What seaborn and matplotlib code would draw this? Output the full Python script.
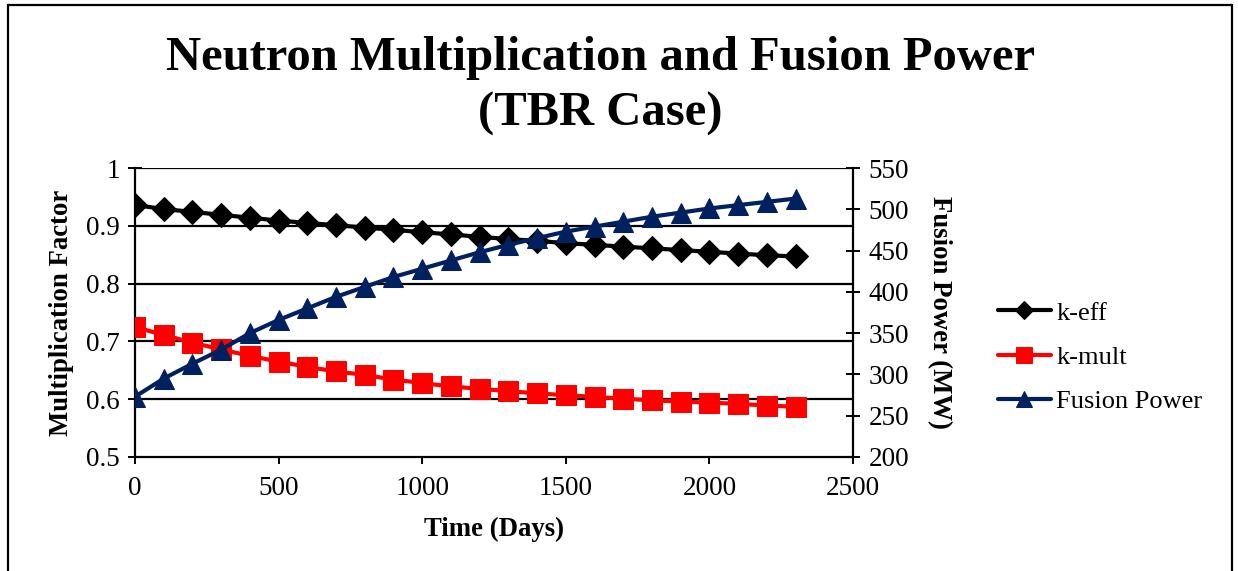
import matplotlib
matplotlib.use("Agg")
import matplotlib.pyplot as plt
import matplotlib.patches as mpatches
import seaborn as sns
import pandas as pd

# Burn-up time points (days)
days = [0, 100, 200, 300, 400, 500, 600, 700, 800, 900, 1000, 1100,
        1200, 1300, 1400, 1500, 1600, 1700, 1800, 1900, 2000, 2100, 2200, 2300]

# Effective multiplication factor
k_eff = [0.936, 0.929, 0.924, 0.919, 0.914, 0.909, 0.905, 0.901, 0.897, 0.893,
         0.889, 0.885, 0.881, 0.877, 0.874, 0.870, 0.867, 0.864, 0.861, 0.858,
         0.855, 0.852, 0.849, 0.847]

# Blanket multiplication factor
k_mult = [0.725, 0.711, 0.698, 0.686, 0.675, 0.665, 0.656, 0.648, 0.642, 0.634,
          0.628, 0.622, 0.618, 0.614, 0.610, 0.607, 0.604, 0.601, 0.598, 0.596,
          0.594, 0.592, 0.589, 0.587]

# Fusion power (MW)
fusion_power = [273, 295, 313, 330, 350, 366, 380, 394, 406, 418, 428, 438,
                448, 457, 465, 473, 479, 485, 491, 496, 501, 505, 509, 513]

x_ticks = [0, 500, 1000, 1500, 2000, 2500]
left_ticks = [0.5, 0.6, 0.7, 0.8, 0.9, 1.0]
right_ticks = [200, 250, 300, 350, 400, 450, 500, 550]

title = "Neutron Multiplication and Fusion Power\n(TBR Case)"
series_names = ["k-eff", "k-mult", "Fusion Power"]

df = pd.DataFrame({"days": days, "k_eff": k_eff, "k_mult": k_mult,
                   "power": fusion_power})

sns.set_theme(style="white")
plt.rcParams["font.family"] = ["Liberation Serif", "DejaVu Serif"]

W, H = 1238, 571
fig = plt.figure(figsize=(W / 100, H / 100), dpi=100)
fig.patch.set_facecolor("white")
ax = fig.add_axes([135 / W, 1 - 457 / H, (853 - 135) / W, (457 - 168) / H])
ax2 = ax.twinx()

navy = "#002060"
lw = 3.0

sns.lineplot(data=df, x="days", y="k_eff", ax=ax, color="black", linewidth=lw,
             marker="D", markersize=12, markeredgecolor="black",
             label=series_names[0], legend=False, zorder=3)
sns.lineplot(data=df, x="days", y="k_mult", ax=ax, color="#FF0000", linewidth=lw,
             marker="s", markersize=14, markeredgecolor="#FF0000",
             label=series_names[1], legend=False, zorder=3)
sns.lineplot(data=df, x="days", y="power", ax=ax2, color=navy, linewidth=lw,
             marker="^", markersize=14.5, markeredgecolor=navy,
             label=series_names[2], legend=False, zorder=3)

# Left axis
ax.set_xlim(0, 2500)
ax.set_ylim(0.5, 1.0)
ax.set_xticks(x_ticks)
ax.set_yticks(left_ticks)
ax.set_yticklabels([f"{v:g}" for v in left_ticks])
ax.set_xticklabels([str(v) for v in x_ticks])
for v in left_ticks[1:]:
    ax.axhline(v, color="black", linewidth=1.6, zorder=1)

# Right axis
ax2.set_ylim(200, 550)
ax2.set_yticks(right_ticks)
ax2.set_yticklabels([str(v) for v in right_ticks])

for a in (ax, ax2):
    a.set_facecolor("none")
    for s in a.spines.values():
        s.set_visible(False)
    a.grid(False)

ax.spines["left"].set_visible(True)
ax.spines["bottom"].set_visible(True)
ax2.spines["right"].set_visible(True)
for s in (ax.spines["left"], ax.spines["bottom"], ax2.spines["right"]):
    s.set_color("black")
    s.set_linewidth(1.6)

tick_fs = 19.5
ax.tick_params(axis="y", direction="inout", length=10, width=1.4, color="black",
               labelsize=tick_fs, pad=6, left=True)
ax.tick_params(axis="x", direction="out", length=5, width=1.4, color="black",
               labelsize=tick_fs, pad=9, bottom=True)
ax2.tick_params(axis="y", direction="inout", length=10, width=1.4, color="black",
                labelsize=tick_fs, pad=6, right=True)
for lab in ax.get_xticklabels() + ax.get_yticklabels() + ax2.get_yticklabels():
    lab.set_color("black")

label_fs = 19.3
ax.set_xlabel("Time (Days)", fontsize=label_fs, fontweight="bold", color="black")
ax.set_ylabel("Multiplication Factor", fontsize=label_fs, fontweight="bold",
              color="black")
ax2.set_ylabel("Fusion Power (MW)", fontsize=label_fs, fontweight="bold",
               color="black", rotation=-90)
ax.xaxis.set_label_coords((494 - 135) / 718, (457 - 517) / 289)
ax.yaxis.set_label_coords((74 - 135) / 718, 0.5)
ax2.yaxis.set_label_coords((952 - 135) / 718, 0.5)

fig.text(600 / W, 1 - 86 / H, title, ha="center", va="center",
         multialignment="center", fontsize=35, fontweight="bold",
         color="black", linespacing=1.32)

# Combined legend for both axes
h1, l1 = ax.get_legend_handles_labels()
h2, l2 = ax2.get_legend_handles_labels()
leg = fig.legend(h1 + h2, l1 + l2, loc="center left",
                 bbox_to_anchor=(998 / W, 1 - 357 / H), frameon=False,
                 fontsize=19, handlelength=2.0, handletextpad=0.2,
                 labelspacing=0.78, borderaxespad=0, borderpad=0)
for t in leg.get_texts():
    t.set_color("black")
for h, ms in zip(leg.legend_handles, [9, 12, 12]):
    h.set_markersize(ms)

# Chart border
border = mpatches.Rectangle((8 / W, -0.05), (1232 - 8) / W, 1 - 5 / H + 0.05,
                            transform=fig.transFigure, fill=False,
                            edgecolor="black", linewidth=1.6, clip_on=False)
fig.patches.append(border)

fig.savefig("out.png", dpi=100, facecolor="white")
